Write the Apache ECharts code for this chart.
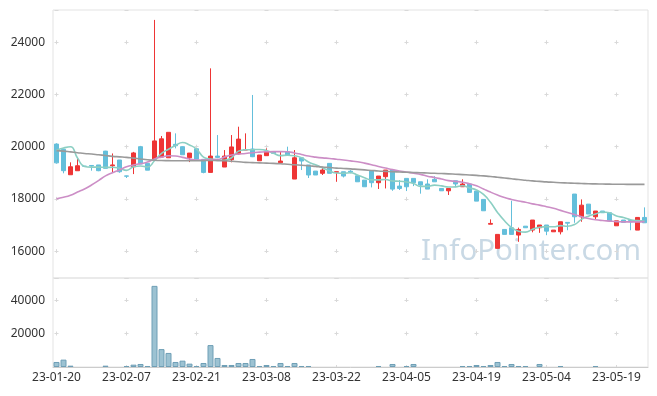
<!DOCTYPE html>
<html><head><meta charset="utf-8">
<script src="https://cdn.jsdelivr.net/npm/echarts@6/dist/echarts.min.js"></script>
<style>html,body{margin:0;padding:0;background:#fff}#c{width:657px;height:396px}</style>
</head><body><div id="c"></div>
<script>
const dates = ['23-01-20','23-01-25','23-01-26','23-01-27','23-01-30','23-01-31','23-02-01','23-02-02','23-02-03','23-02-06',
'23-02-07','23-02-08','23-02-09','23-02-10','23-02-13','23-02-14','23-02-15','23-02-16','23-02-17','23-02-20',
'23-02-21','23-02-22','23-02-23','23-02-24','23-02-27','23-02-28','23-03-02','23-03-03','23-03-06','23-03-07',
'23-03-08','23-03-09','23-03-10','23-03-13','23-03-14','23-03-15','23-03-16','23-03-17','23-03-20','23-03-21',
'23-03-22','23-03-23','23-03-24','23-03-27','23-03-28','23-03-29','23-03-30','23-03-31','23-04-03','23-04-04',
'23-04-05','23-04-06','23-04-07','23-04-10','23-04-11','23-04-12','23-04-13','23-04-14','23-04-17','23-04-18',
'23-04-19','23-04-20','23-04-21','23-04-24','23-04-25','23-04-26','23-04-27','23-04-28','23-05-02','23-05-03',
'23-05-04','23-05-08','23-05-09','23-05-10','23-05-11','23-05-12','23-05-15','23-05-16','23-05-17','23-05-18',
'23-05-19','23-05-22','23-05-23','23-05-24','23-05-25'];

const openP = [20100,19900,18925,19078,19250,19280,19300,19830,19270,19490,
18880,19230,20000,19360,19530,19600,19575,20090,20000,19575,
19920,19515,19015,19640,19220,19500,19720,19870,19910,19460,
19655,19805,19385,19805,18760,19575,19300,19065,18980,19360,
19020,19040,19060,18885,18720,19065,18620,18850,19105,18490,
18785,18785,18655,18570,18750,18400,18310,18695,18465,18570,
18300,17980,17030,16105,16830,16895,16615,16955,16805,16895,
17000,16740,16740,17100,18185,17315,17800,17315,17535,17470,
16970,17190,17170,16805,17290];
const closeP = [19380,19080,19230,19270,19250,19260,19080,19170,19300,19040,
18870,19760,19335,19100,20220,20300,20550,20035,19690,19755,
19520,19015,19640,19590,19640,19990,20290,19890,19615,19680,
19805,19745,19450,19680,19575,19450,18915,18915,19105,18980,
19040,18875,19030,18655,18465,18620,18875,19105,18375,18400,
18465,18620,18530,18375,18655,18310,18400,18570,18570,18250,
17915,17545,17060,16640,16640,16640,16830,16895,17190,17000,
16765,16805,17125,17070,17315,17760,17420,17535,17470,17160,
17160,17100,17120,17290,17085];
const lowP = [19350,18980,18925,19078,19250,19080,19060,19170,19000,19000,
18800,18950,19335,19100,19530,19600,19575,19935,19690,19410,
19520,18980,19015,19560,19220,19400,19700,19870,19600,19460,
19655,19745,19385,19680,18760,19105,18800,18915,18915,18980,
18655,18820,18980,18655,18465,18440,18380,18400,18310,18340,
18300,18490,18200,18375,18655,18310,18150,18450,18465,18250,
17915,17545,17030,16105,16640,16640,16355,16895,16720,16700,
16610,16740,16640,16800,17085,17125,17420,17200,17470,17160,
16970,17100,16800,16805,17085];
const highP = [20130,19920,19400,19576,19250,19290,19300,19840,19740,19490,
18890,19800,20030,19360,24855,20410,20550,20510,20010,19755,
19920,19515,23000,20445,19870,20445,20765,20510,21980,19680,
19935,19805,19805,20000,19870,19575,19300,19065,19230,19360,
19040,19040,19100,18885,18720,19065,18875,19105,19105,18720,
18785,18785,18655,18750,18870,18400,18400,18695,18750,18570,
18300,17980,17215,16640,16830,17930,16900,16955,17190,17000,
17000,16805,17125,17100,18185,17980,17800,17535,17535,17470,
17160,17190,17170,17290,17675];
const volume = [3000,4400,800,0,0,0,0,800,0,0,
600,1400,1800,600,48500,10700,8400,3000,3800,2000,
600,2400,13100,5400,1200,1200,2400,2400,4800,600,
1200,600,2400,600,2400,600,600,0,0,0,
0,0,0,0,0,0,600,0,1800,0,
600,1800,0,0,0,0,0,0,600,600,
1200,600,1200,3000,600,1800,600,600,0,1800,
0,0,600,0,0,0,0,600,0,0,
0,0,0,0,0];
const ma5 = [19860,19950,20000,19565,19242,19218,19218,19206,19212,19170,
19092,19228,19261,19221,19459,19745,19903,20043,20161,20066,
19910,19603,19524,19504,19481,19575,19830,19880,19885,19893,
19856,19747,19659,19672,19651,19580,19414,19307,19192,19073,
18989,18981,19004,18914,18811,18729,18729,18744,18688,18675,
18644,18593,18478,18478,18529,18498,18454,18462,18501,18420,
18341,18170,17868,17482,17160,16905,16762,16729,16839,16911,
16936,16931,16977,16953,17016,17215,17338,17420,17500,17469,
17349,17285,17202,17166,17151];
const ma20 = [18000,18060,18140,18260,18380,18530,18700,18880,19000,19110,
19230,19300,19350,19410,19530,19600,19650,19640,19590,19530,
19490,19490,19500,19510,19600,19680,19720,19740,19770,19790,
19806,19810,19810,19805,19760,19700,19640,19600,19570,19550,
19520,19490,19455,19420,19370,19310,19240,19180,19120,19070,
19030,18980,18940,18870,18820,18760,18700,18670,18640,18580,
18500,18380,18260,18150,18050,17980,17920,17870,17810,17760,
17700,17640,17560,17480,17400,17320,17250,17200,17170,17150,
17130,17120,17120,17120,17130];
const ma60 = [19850,19830,19800,19770,19740,19720,19690,19660,19630,19610,
19590,19560,19530,19500,19480,19470,19465,19460,19460,19460,
19460,19465,19470,19465,19460,19440,19420,19400,19390,19380,
19370,19360,19345,19325,19305,19290,19270,19245,19220,19200,
19180,19165,19150,19130,19110,19090,19070,19055,19040,19030,
19020,19010,19000,18990,18980,18970,18960,18945,18930,18915,
18900,18880,18860,18830,18800,18770,18740,18715,18690,18670,
18650,18635,18620,18610,18600,18590,18580,18575,18570,18565,
18560,18560,18555,18555,18555];
const watermark = 'InfoPointer.com';

const candles = dates.map((d, i) => [openP[i], closeP[i], lowP[i], highP[i]]);
// zero-volume days draw no bar (avoids a stroked zero-height rectangle)
const volumeBars = volume.map(v => (v === 0 ? '-' : v));
const FONT = 'Noto Sans';
const gridCol = '#d9d9d9';
const plain = v => String(v);

const chart = echarts.init(document.getElementById('c'), null, {renderer: 'canvas'});
chart.setOption({
  animation: false,
  backgroundColor: '#fff',
  graphic: [{
    type: 'text', left: 421, top: 237, z: 0,
    style: {text: watermark, fill: '#c9d9e5', font: '29.5px "Noto Sans"'}
  }],
  grid: [
    {left: 53, right: 9, top: 10, height: 268, show: true, borderColor: '#e3e3e3', borderWidth: 1, backgroundColor: 'transparent'},
    {left: 53, right: 9, top: 278, height: 89, show: true, borderColor: '#e3e3e3', borderWidth: 1, backgroundColor: 'transparent'}
  ],
  xAxis: [
    {type: 'category', gridIndex: 0, data: dates, boundaryGap: true,
     axisLine: {show: false}, axisTick: {show: false, alignWithLabel: true},
     axisLabel: {show: false, interval: 9},
     splitLine: {show: true, interval: 9, alignWithLabel: true,
       lineStyle: {color: gridCol, width: 1, type: [4, 48.2], dashOffset: 21.9}}},
    {type: 'category', gridIndex: 1, data: dates, boundaryGap: true,
     axisLine: {show: true, lineStyle: {color: '#cccccc'}}, axisTick: {show: false, alignWithLabel: true},
     axisLabel: {show: true, interval: 9, color: '#333', fontFamily: FONT, fontSize: 12, margin: 5},
     splitLine: {show: true, interval: 9, alignWithLabel: true,
       lineStyle: {color: gridCol, width: 1, type: [4, 29.5], dashOffset: 13.5}}}
  ],
  yAxis: [
    {type: 'value', gridIndex: 0, min: 14970, max: 25235, scale: true,
     axisLine: {show: false}, axisTick: {show: false},
     axisLabel: {color: '#333', fontFamily: FONT, fontSize: 12, showMinLabel: false, showMaxLabel: false, formatter: plain},
     splitLine: {show: true, lineStyle: {color: gridCol, width: 1, type: [4, 66], dashOffset: 68.5}}},
    {type: 'value', gridIndex: 1, min: 0, max: 53200, interval: 20000,
     axisLine: {show: false}, axisTick: {show: false},
     axisLabel: {color: '#333', fontFamily: FONT, fontSize: 12, showMinLabel: false, showMaxLabel: false, formatter: plain},
     splitLine: {show: true, lineStyle: {color: gridCol, width: 1, type: [4, 66], dashOffset: 68.5}}}
  ],
  series: [
    {name: 'price', type: 'candlestick', xAxisIndex: 0, yAxisIndex: 0, data: candles, barWidth: 5,
     itemStyle: {color: '#ee3535', color0: '#64bfdb', borderColor: '#ee3535', borderColor0: '#64bfdb', borderWidth: 1}, z: 3},
    {name: 'MA5', type: 'line', xAxisIndex: 0, yAxisIndex: 0, data: ma5, smooth: true, showSymbol: false, symbol: 'none',
     lineStyle: {color: '#8ccfc3', width: 1.6}, z: 4},
    {name: 'MA20', type: 'line', xAxisIndex: 0, yAxisIndex: 0, data: ma20, smooth: true, showSymbol: false, symbol: 'none',
     lineStyle: {color: '#cc8ec6', width: 1.6}, z: 4},
    {name: 'MA60', type: 'line', xAxisIndex: 0, yAxisIndex: 0, data: ma60, smooth: true, showSymbol: false, symbol: 'none',
     lineStyle: {color: '#9a9a9a', width: 1.6}, z: 4},
    {name: 'volume', type: 'bar', xAxisIndex: 1, yAxisIndex: 1, data: volumeBars, barWidth: 6,
     itemStyle: {color: '#9cc2d2', borderColor: '#6f9fb6', borderWidth: 1}}
  ]
});
</script></body></html>
